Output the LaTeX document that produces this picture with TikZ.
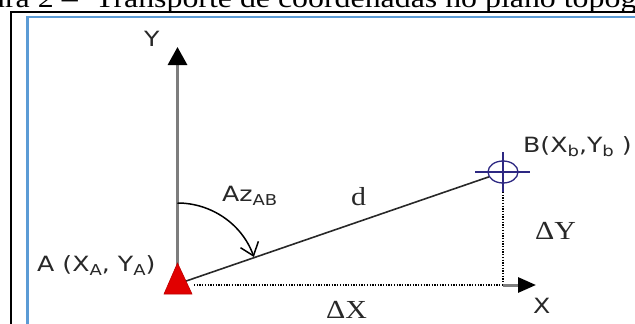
\documentclass[tikz,border=0pt]{standalone}
\usepackage{fontspec}
\setmainfont{Liberation Serif}
\newfontfamily\labfont{DejaVu Sans}
\usetikzlibrary{arrows.meta,shapes.geometric}
\definecolor{frameblue}{RGB}{91,155,213}
\definecolor{navyc}{RGB}{45,40,130}
\definecolor{axisgray}{RGB}{125,125,125}
\definecolor{redA}{RGB}{225,0,0}
\definecolor{labgray}{RGB}{40,40,40}
\newcommand{\sxs}[1]{\scalebox{1.2}[1]{#1}}
\newcommand{\sxr}[1]{\scalebox{1.15}[1]{#1}}
\newcommand{\sxc}[1]{\scalebox{1.18}[1]{#1}}
\newcommand{\subl}[1]{\raisebox{-0.22em}{\fontsize{15}{15}\selectfont #1}}
\begin{document}
\begin{tikzpicture}[x=1pt,y=-1pt,
  sanslab/.style={font=\labfont\fontsize{21}{21}\selectfont, text=labgray, inner sep=0, anchor=base west},
  serlab/.style={font=\fontsize{26}{26}\selectfont, text=labgray, inner sep=0, anchor=base west},
  axisline/.style={draw=axisgray, line width=3pt},
  dotline/.style={draw=black, line width=1.3pt, dash pattern=on 1.3pt off 1.4pt},
  dline/.style={draw=labgray, line width=1.6pt},
  navyline/.style={draw=navyc, line width=1.5pt}]
\useasboundingbox (0,0) rectangle (635,324);
\begin{scope}
\clip (0,0) rectangle (635,324);
\node[anchor=base west, inner sep=0, font=\fontsize{27}{27}\selectfont] (cap) at (95,7.5)
  {\sxc{\llap{Figura 2 –\hspace{0.55em}}Transporte de coordenadas no plano topográfico}};
\draw[black, line width=2.6pt] (11,340) -- (11,12) -- (650,12);
\draw[frameblue, line width=2.2pt] (27.5,340) -- (27.5,17) -- (650,17);
\end{scope}

% key points
\coordinate (A) at (177.5,284);
\coordinate (Ytip) at (177.5,47);
\coordinate (C) at (503,285);
\coordinate (Xtip) at (536,285);
\coordinate (Aright) at (194,285);
\coordinate (Bbot) at (503,192);

% B target
\node[draw=navyc, line width=1.3pt, ellipse, minimum width=30pt, minimum height=22pt, inner sep=0] (B) at (503,172) {};
\draw[navyline] ([xshift=-28pt]B.center) -- ([xshift=27pt]B.center);
\draw[navyline] ([yshift=20pt]B.center) -- (Bbot);

% axes
\draw[axisline, -{Triangle[length=18pt,width=19pt,black]}] (A) -- (Ytip);
\draw[dotline] (Aright) -- (C);
\draw[dotline] (Bbot) -- (C);
\draw[axisline, -{Triangle[length=18pt,width=15pt,black]}] (C) -- (Xtip);

% line d
\draw[dline] (A) -- (B);

% azimuth arc
\draw[line width=1.5pt, black, -{Straight Barb[length=12pt,width=19pt]}]
  (A) ++(0,-81) arc[start angle=-90, end angle=-19.5, radius=81];

% red triangle at A
\fill[redA, draw=red!75!black, line width=0.6pt] (164,294) -- (177.5,263) -- (192,294) -- cycle;

% labels
\node[sanslab] (ylab) at (144,46) {\sxs{Y}};
\node[sanslab] (xlab) at (533,313) {\sxs{X}};
\node[sanslab] (alab) at (37,271) {\sxs{A (X\subl{A}, Y\subl{A})}};
\node[sanslab] (azlab) at (222,201) {\sxs{Az\subl{AB}}};
\node[sanslab] (blab) at (523,152) {\sxs{B(X\subl{b},Y\subl{b} )}};
\node[serlab] (dlab) at (351,205) {\sxr{d}};
\node[serlab] (dylab) at (535,239) {\sxr{ΔY}};
\node[serlab] (dxlab) at (326,318) {\sxr{ΔX}};
\end{tikzpicture}
\end{document}
